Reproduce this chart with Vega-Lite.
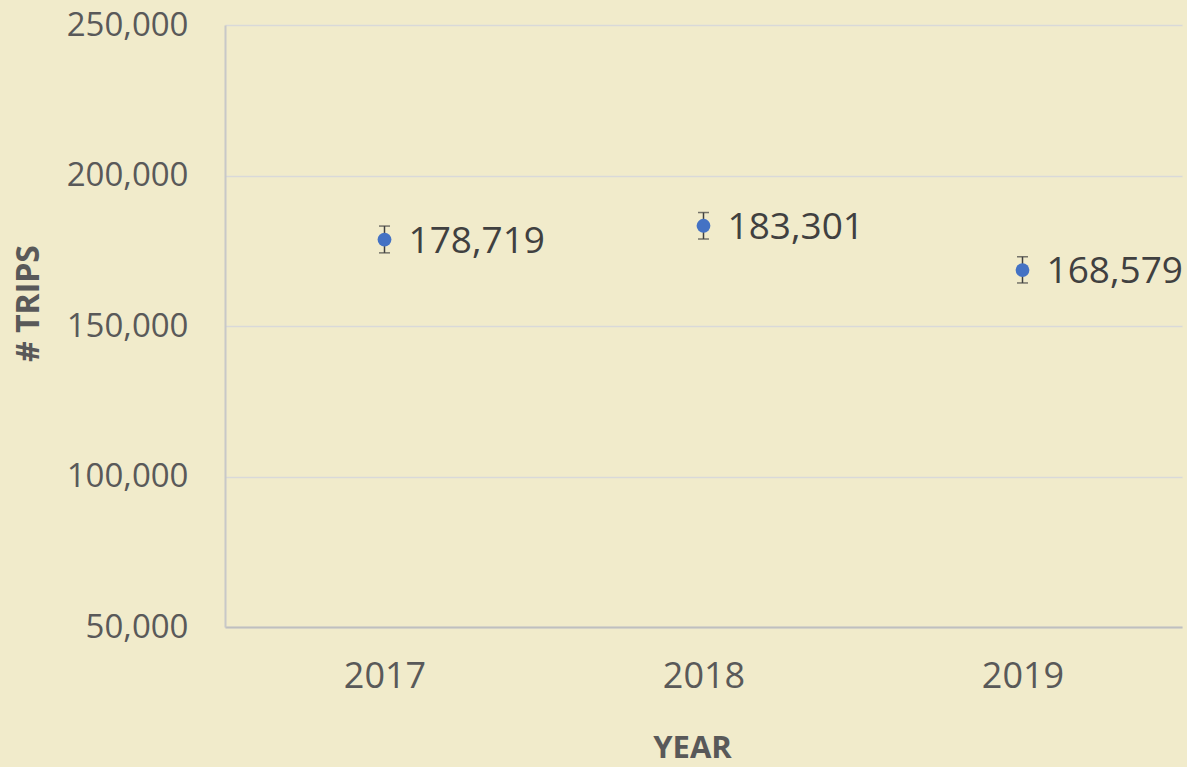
{
  "$schema": "https://vega.github.io/schema/vega-lite/v6.json",
  "width": 957,
  "height": 602,
  "autosize": "none",
  "padding": {"left": 225, "top": 25, "right": 5, "bottom": 140},
  "background": "#F1EBCB",
  "config": {
    "view": {"stroke": null},
    "font": "Open Sans"
  },
  "data": {
    "values": [
      {"year": "2017", "trips": 178719, "lo": 174300, "hi": 183200},
      {"year": "2018", "trips": 183301, "lo": 178900, "hi": 187700},
      {"year": "2019", "trips": 168579, "lo": 164300, "hi": 173000}
    ]
  },
  "encoding": {
    "x": {
      "field": "year",
      "type": "ordinal",
      "scale": {"type": "point", "padding": 0.5},
      "axis": {
        "title": "YEAR",
        "labelAngle": 0,
        "labelFontSize": 36,
        "labelColor": "#595959",
        "labelPadding": 32,
        "ticks": false,
        "domain": true,
        "domainColor": "#BFBFBF",
        "domainWidth": 2,
        "titleFontSize": 31,
        "titleFontWeight": "bold",
        "titleColor": "#595959",
        "titleX": 467,
        "titleY": 121,
        "titleBaseline": "middle"
      }
    }
  },
  "layer": [
    {
      "mark": {"type": "rule", "color": "#404040", "strokeWidth": 1.5},
      "encoding": {
        "y": {
          "field": "lo",
          "type": "quantitative",
          "scale": {"domain": [50000, 250000], "nice": false, "zero": false},
          "axis": {
            "title": "# TRIPS",
            "values": [50000, 100000, 150000, 200000, 250000],
            "format": ",d",
            "labelFontSize": 33,
            "labelColor": "#595959",
            "labelPadding": 37,
            "ticks": false,
            "domain": true,
            "domainColor": "#C8C8C8",
            "domainWidth": 2,
            "gridColor": "#D9D9D9",
            "gridWidth": 1.5,
            "titleFontSize": 32,
            "titleFontWeight": "bold",
            "titleColor": "#595959",
            "titleX": -197,
            "titleY": 278,
            "titleBaseline": "middle"
          }
        },
        "y2": {"field": "hi"}
      }
    },
    {
      "mark": {"type": "tick", "color": "#404040", "size": 11, "thickness": 1.5, "orient": "horizontal"},
      "encoding": {"y": {"field": "lo", "type": "quantitative"}}
    },
    {
      "mark": {"type": "tick", "color": "#404040", "size": 11, "thickness": 1.5, "orient": "horizontal"},
      "encoding": {"y": {"field": "hi", "type": "quantitative"}}
    },
    {
      "mark": {"type": "point", "filled": true, "shape": "circle", "size": 190, "color": "#4472C4", "opacity": 1},
      "encoding": {"y": {"field": "trips", "type": "quantitative"}}
    },
    {
      "mark": {"type": "text", "align": "left", "baseline": "middle", "dx": 24, "dy": 2, "fontSize": 37, "color": "#404040"},
      "encoding": {
        "y": {"field": "trips", "type": "quantitative"},
        "text": {"field": "trips", "type": "quantitative", "format": ",d"}
      }
    }
  ]
}
